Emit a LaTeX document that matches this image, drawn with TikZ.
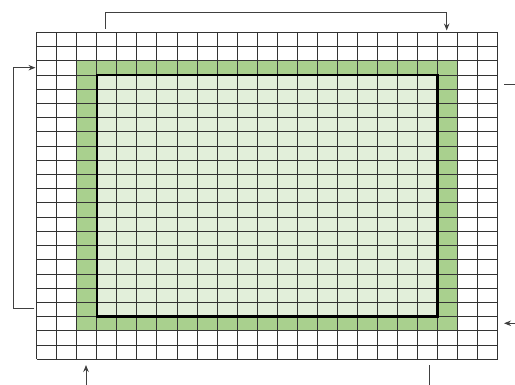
\documentclass[tikz,border=0pt]{standalone}
\usetikzlibrary{arrows.meta,calc}
\definecolor{gdark}{HTML}{A9D08E}
\definecolor{glight}{HTML}{E2EFDA}
\definecolor{gridc}{HTML}{333333}
\definecolor{connc}{HTML}{404040}
\tikzset{
  gridline/.style={draw=gridc, line width=0.9pt},
  boldbox/.style={draw=black, line width=2.4pt},
  conn/.style={draw=connc, line width=0.9pt},
  tip/.style={-{Stealth[length=7pt,width=5.5pt]}},
}
\begin{document}
\begin{tikzpicture}[x=1pt,y=-1pt]
\useasboundingbox (0,0) rectangle (515,385);
\clip (0,0) rectangle (515,385);
\def\gx{36.7}\def\gy{32.3}\def\cw{20.04}\def\ch{14.22}
% named corners
\coordinate (g0) at (\gx,\gy);
\coordinate (g1) at ({\gx+23*\cw},{\gy+23*\ch});
\coordinate (o0) at ({\gx+2*\cw},{\gy+2*\ch});
\coordinate (o1) at ({\gx+21*\cw},{\gy+21*\ch});
\coordinate (i0) at ({\gx+3*\cw},{\gy+3*\ch});
\coordinate (i1) at ({\gx+20*\cw},{\gy+20*\ch});
% fills
\fill[gdark] (o0) rectangle (o1);
\fill[glight] (i0) rectangle (i1);
% grid
\foreach \i in {0,...,23} {
  \draw[gridline] ({\gx+\i*\cw},\gy) -- ({\gx+\i*\cw},{\gy+23*\ch});
  \draw[gridline] (\gx,{\gy+\i*\ch}) -- ({\gx+23*\cw},{\gy+\i*\ch});
}
% bold rectangle
\draw[boldbox] (i0) rectangle (i1);
% connector ends
\coordinate (t1) at (105.3,29);
\coordinate (t2) at (446.7,30.5);
\coordinate (l1) at (34.3,308.3);
\coordinate (l2) at (35.5,67.7);
\coordinate (r1) at (504,84.3);
\coordinate (r1e) at (525,84.3);
\coordinate (r2) at (504,323.3);
\coordinate (r2s) at (525,323.3);
\coordinate (b1) at (86,365);
\coordinate (b1s) at (86,395);
\coordinate (b2) at (429.3,365.5);
\coordinate (b2e) at (429.3,395);
% connectors
\draw[conn,tip] (t1) -- ++(0,-16.3) -| (t2);
\draw[conn,tip] (l1) -- ++(-21,0) |- (l2);
\draw[conn] (r1) -- (r1e);
\draw[conn,tip] (r2s) -- (r2);
\draw[conn,tip] (b1s) -- (b1);
\draw[conn] (b2) -- (b2e);
\end{tikzpicture}
\end{document}
